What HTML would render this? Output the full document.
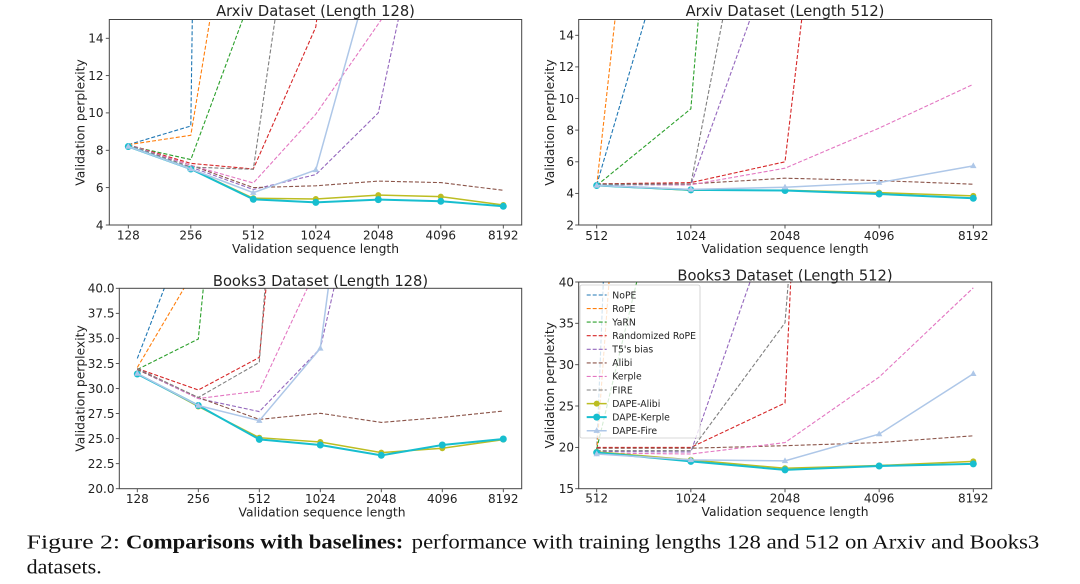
<!DOCTYPE html>
<html><head><meta charset="utf-8"><style>
html,body{margin:0;padding:0;background:#fff;}
svg{display:block;}
.t{font-family:"DejaVu Sans","Liberation Sans",sans-serif;fill:#222;}
.tk{font-size:12px;}
.al{font-size:12.3px;}
.ti{font-size:14.7px;}
.lg{font-size:9.3px;}
.fr{fill:none;stroke:#444;stroke-width:1;}
.tm{stroke:#444;stroke-width:0.9;}
.d{fill:none;stroke-width:1.1;stroke-dasharray:4 2;}
.s{fill:none;}
.cap{font-family:"Liberation Serif","Times New Roman",serif;font-size:20px;fill:#111;}
</style></head><body>
<svg width="1080" height="584" viewBox="0 0 1080 584" xmlns="http://www.w3.org/2000/svg">
<defs>
<clipPath id="cTL"><rect x="109.3" y="19.5" width="412.4" height="205.5"/></clipPath>
<clipPath id="cTR"><rect x="578.7" y="19.5" width="413" height="205.5"/></clipPath>
<clipPath id="cBL"><rect x="119.3" y="288.3" width="402.4" height="200.4"/></clipPath>
<clipPath id="cBR"><rect x="578.7" y="282" width="413" height="206.7"/></clipPath>
</defs>

<!-- ================= TOP LEFT ================= -->
<g clip-path="url(#cTL)">
<polyline class="d" stroke="#1f77b4" points="128.3,144.7 190.8,126.0 193.8,-87"/>
<polyline class="d" stroke="#ff7f0e" points="128.3,144.7 190.8,135.3 229.2,-96.3"/>
<polyline class="d" stroke="#2ca02c" points="128.3,145.6 190.8,159.6 294.6,-120.6"/>
<polyline class="d" stroke="#d62728" points="128.3,144.7 190.8,163.4 253.3,169.0 315.8,27.0 324.8,-48"/>
<polyline class="d" stroke="#9467bd" points="128.3,144.7 190.8,167.1 253.3,189.5 315.8,174.6 378.3,112.9 418.3,-73.9"/>
<polyline class="d" stroke="#8c564b" points="128.3,144.7 190.8,165.2 253.3,187.6 315.8,185.8 378.3,181.1 440.8,182.6 503.3,190.3"/>
<polyline class="d" stroke="#e377c2" points="128.3,144.7 190.8,165.2 253.3,183.0 315.8,114.2 443.3,-69.9"/>
<polyline class="d" stroke="#7f7f7f" points="128.3,144.7 190.8,167.1 253.3,169.3 296.7,-130"/>
<polyline class="s" stroke="#bcbd22" stroke-width="1.5" points="128.3,146.5 190.8,169.0 253.3,198.3 315.8,199.0 378.3,195.1 440.8,196.6 503.3,205.0"/>
<g fill="#bcbd22"><circle cx="128.3" cy="146.5" r="3"/><circle cx="190.8" cy="169.0" r="3"/><circle cx="253.3" cy="198.3" r="3"/><circle cx="315.8" cy="199.0" r="3"/><circle cx="378.3" cy="195.1" r="3"/><circle cx="440.8" cy="196.6" r="3"/><circle cx="503.3" cy="205.0" r="3"/></g>
<polyline class="s" stroke="#17becf" stroke-width="2" points="128.3,146.5 190.8,169.0 253.3,199.3 315.8,202.4 378.3,199.6 440.8,201.3 503.3,206.3"/>
<g fill="#17becf"><circle cx="128.3" cy="146.5" r="3.5"/><circle cx="190.8" cy="169.0" r="3.5"/><circle cx="253.3" cy="199.3" r="3.5"/><circle cx="315.8" cy="202.4" r="3.5"/><circle cx="378.3" cy="199.6" r="3.5"/><circle cx="440.8" cy="201.3" r="3.5"/><circle cx="503.3" cy="206.3" r="3.5"/></g>
<polyline class="s" stroke="#aec7e8" stroke-width="1.5" points="128.3,146.5 190.8,169.0 253.3,192.7 315.8,169.9 399.6,-130.9"/>
<g fill="#aec7e8"><polygon points="128.3,143 125.1,148.7 131.5,148.7"/><polygon points="190.8,165.5 187.6,171.2 194,171.2"/><polygon points="253.3,189.2 250.1,194.9 256.5,194.9"/><polygon points="315.8,166.4 312.6,172.1 319,172.1"/></g>
</g>
<rect class="fr" x="109.3" y="19.5" width="412.4" height="205.5"/>
<g class="tm">
<line x1="105.8" y1="225" x2="109.3" y2="225"/><line x1="105.8" y1="187.6" x2="109.3" y2="187.6"/><line x1="105.8" y1="150.3" x2="109.3" y2="150.3"/><line x1="105.8" y1="112.9" x2="109.3" y2="112.9"/><line x1="105.8" y1="75.6" x2="109.3" y2="75.6"/><line x1="105.8" y1="38.3" x2="109.3" y2="38.3"/>
<line x1="128.3" y1="225" x2="128.3" y2="228.5"/><line x1="190.8" y1="225" x2="190.8" y2="228.5"/><line x1="253.3" y1="225" x2="253.3" y2="228.5"/><line x1="315.8" y1="225" x2="315.8" y2="228.5"/><line x1="378.3" y1="225" x2="378.3" y2="228.5"/><line x1="440.8" y1="225" x2="440.8" y2="228.5"/><line x1="503.3" y1="225" x2="503.3" y2="228.5"/>
</g>
<g class="t tk" text-anchor="end">
<text x="103.5" y="229.3">4</text><text x="103.5" y="191.9">6</text><text x="103.5" y="154.6">8</text><text x="103.5" y="117.2">10</text><text x="103.5" y="79.9">12</text><text x="103.5" y="42.6">14</text>
</g>
<g class="t tk" text-anchor="middle">
<text x="128.3" y="239.5">128</text><text x="190.8" y="239.5">256</text><text x="253.3" y="239.5">512</text><text x="315.8" y="239.5">1024</text><text x="378.3" y="239.5">2048</text><text x="440.8" y="239.5">4096</text><text x="503.3" y="239.5">8192</text>
</g>
<text class="t al" x="315.5" y="253" text-anchor="middle">Validation sequence length</text>
<text class="t al" transform="translate(84.5,122.5) rotate(-90)" text-anchor="middle">Validation perplexity</text>
<text class="t ti" x="315.5" y="16" text-anchor="middle">Arxiv Dataset (Length 128)</text>

<!-- ================= TOP RIGHT ================= -->
<g clip-path="url(#cTR)">
<polyline class="d" stroke="#1f77b4" points="596.7,184.8 693.3,-145.8"/>
<polyline class="d" stroke="#ff7f0e" points="596.7,185.5 633.3,-146.5"/>
<polyline class="d" stroke="#2ca02c" points="596.7,185.5 690.85,108.8 705.8,-69.8"/>
<polyline class="d" stroke="#d62728" points="596.7,183.9 690.85,182.6 785,161.8 818.4,-122.8"/>
<polyline class="d" stroke="#9467bd" points="596.7,184.7 690.85,184.8 809.2,-145.8"/>
<polyline class="d" stroke="#8c564b" points="596.7,183.9 690.85,183.9 785,178.2 879.15,180.6 973.3,184.2"/>
<polyline class="d" stroke="#e377c2" points="596.7,184.7 690.85,184.8 785,168.2 879.15,128.1 973.3,84.3"/>
<polyline class="d" stroke="#7f7f7f" points="596.7,184.7 690.85,184.0 754.5,-145"/>
<polyline class="s" stroke="#bcbd22" stroke-width="1.5" points="596.7,185.5 690.85,190.2 785,190.2 879.15,192.6 973.3,195.9"/>
<g fill="#bcbd22"><circle cx="596.7" cy="185.5" r="3"/><circle cx="690.85" cy="190.2" r="3"/><circle cx="785" cy="190.2" r="3"/><circle cx="879.15" cy="192.6" r="3"/><circle cx="973.3" cy="195.9" r="3"/></g>
<polyline class="s" stroke="#17becf" stroke-width="2" points="596.7,185.5 690.85,189.9 785,190.5 879.15,194.0 973.3,198.3"/>
<g fill="#17becf"><circle cx="596.7" cy="185.5" r="3.5"/><circle cx="690.85" cy="189.9" r="3.5"/><circle cx="785" cy="190.5" r="3.5"/><circle cx="879.15" cy="194.0" r="3.5"/><circle cx="973.3" cy="198.3" r="3.5"/></g>
<polyline class="s" stroke="#aec7e8" stroke-width="1.5" points="596.7,185.5 690.85,189.4 785,187.2 879.15,182.6 973.3,165.9"/>
<g fill="#aec7e8"><polygon points="596.7,182 593.5,187.7 599.9,187.7"/><polygon points="690.85,185.9 687.65,191.6 694.05,191.6"/><polygon points="785,183.7 781.8,189.4 788.2,189.4"/><polygon points="879.15,179.1 875.95,184.8 882.35,184.8"/><polygon points="973.3,162.4 970.1,168.1 976.5,168.1"/></g>
</g>
<rect class="fr" x="578.7" y="19.5" width="413" height="205.5"/>
<g class="tm">
<line x1="575.2" y1="225" x2="578.7" y2="225"/><line x1="575.2" y1="193.4" x2="578.7" y2="193.4"/><line x1="575.2" y1="161.8" x2="578.7" y2="161.8"/><line x1="575.2" y1="130.1" x2="578.7" y2="130.1"/><line x1="575.2" y1="98.5" x2="578.7" y2="98.5"/><line x1="575.2" y1="66.9" x2="578.7" y2="66.9"/><line x1="575.2" y1="35.3" x2="578.7" y2="35.3"/>
<line x1="596.7" y1="225" x2="596.7" y2="228.5"/><line x1="690.85" y1="225" x2="690.85" y2="228.5"/><line x1="785" y1="225" x2="785" y2="228.5"/><line x1="879.15" y1="225" x2="879.15" y2="228.5"/><line x1="973.3" y1="225" x2="973.3" y2="228.5"/>
</g>
<g class="t tk" text-anchor="end">
<text x="574" y="229.3">2</text><text x="574" y="197.7">4</text><text x="574" y="166.1">6</text><text x="574" y="134.4">8</text><text x="574" y="102.8">10</text><text x="574" y="71.2">12</text><text x="574" y="39.6">14</text>
</g>
<g class="t tk" text-anchor="middle">
<text x="596.7" y="240">512</text><text x="690.85" y="240">1024</text><text x="785" y="240">2048</text><text x="879.15" y="240">4096</text><text x="973.3" y="240">8192</text>
</g>
<text class="t al" x="785" y="253" text-anchor="middle">Validation sequence length</text>
<text class="t al" transform="translate(554,122.5) rotate(-90)" text-anchor="middle">Validation perplexity</text>
<text class="t ti" x="785" y="16" text-anchor="middle">Arxiv Dataset (Length 512)</text>

<!-- ================= BOTTOM LEFT ================= -->
<g clip-path="url(#cBL)">
<polyline class="d" stroke="#1f77b4" points="137.3,358.4 218.3,148.1"/>
<polyline class="d" stroke="#ff7f0e" points="137.3,367.5 277.4,129.9"/>
<polyline class="d" stroke="#2ca02c" points="137.3,369.5 198.3,339.0 213.3,186.9"/>
<polyline class="d" stroke="#d62728" points="137.3,368.5 198.3,390.0 259.3,357.4 279.4,150.1"/>
<polyline class="d" stroke="#9467bd" points="137.3,369.5 198.3,398.5 259.3,411.6 320.3,348.4 361.4,168.1"/>
<polyline class="d" stroke="#8c564b" points="137.3,369.5 198.3,397.5 259.3,419.4 320.3,413.3 381.3,422.4 442.3,417.4 503.3,411.0"/>
<polyline class="d" stroke="#e377c2" points="137.3,368.5 198.3,398.5 259.3,391.0 403.3,82.9"/>
<polyline class="d" stroke="#7f7f7f" points="137.3,368.5 198.3,397.5 259.3,362.4 276.4,140.1"/>
<polyline class="s" stroke="#bcbd22" stroke-width="1.5" points="137.3,373.5 198.3,406.5 259.3,437.7 320.3,442.0 381.3,452.6 442.3,448.3 503.3,439.6"/>
<g fill="#bcbd22"><circle cx="137.3" cy="373.5" r="3"/><circle cx="198.3" cy="406.5" r="3"/><circle cx="259.3" cy="437.7" r="3"/><circle cx="320.3" cy="442.0" r="3"/><circle cx="381.3" cy="452.6" r="3"/><circle cx="442.3" cy="448.3" r="3"/><circle cx="503.3" cy="439.6" r="3"/></g>
<polyline class="s" stroke="#17becf" stroke-width="2" points="137.3,374.0 198.3,405.5 259.3,439.4 320.3,445.0 381.3,455.3 442.3,445.0 503.3,439.0"/>
<g fill="#17becf"><circle cx="137.3" cy="374.0" r="3.5"/><circle cx="198.3" cy="405.5" r="3.5"/><circle cx="259.3" cy="439.4" r="3.5"/><circle cx="320.3" cy="445.0" r="3.5"/><circle cx="381.3" cy="455.3" r="3.5"/><circle cx="442.3" cy="445.0" r="3.5"/><circle cx="503.3" cy="439.0" r="3.5"/></g>
<polyline class="s" stroke="#aec7e8" stroke-width="1.5" points="137.3,373.5 198.3,405.5 259.3,420.7 320.3,348.4 344.3,168.1"/>
<g fill="#aec7e8"><polygon points="137.3,370 134.1,375.7 140.5,375.7"/><polygon points="198.3,402 195.1,407.7 201.5,407.7"/><polygon points="259.3,417.2 256.1,422.9 262.5,422.9"/><polygon points="320.3,344.9 317.1,350.6 323.5,350.6"/></g>
</g>
<rect class="fr" x="119.3" y="288.3" width="402.4" height="200.4"/>
<g class="tm">
<line x1="115.8" y1="488.7" x2="119.3" y2="488.7"/><line x1="115.8" y1="463.65" x2="119.3" y2="463.65"/><line x1="115.8" y1="438.6" x2="119.3" y2="438.6"/><line x1="115.8" y1="413.55" x2="119.3" y2="413.55"/><line x1="115.8" y1="388.5" x2="119.3" y2="388.5"/><line x1="115.8" y1="363.45" x2="119.3" y2="363.45"/><line x1="115.8" y1="338.4" x2="119.3" y2="338.4"/><line x1="115.8" y1="313.35" x2="119.3" y2="313.35"/><line x1="115.8" y1="288.3" x2="119.3" y2="288.3"/>
<line x1="137.3" y1="488.7" x2="137.3" y2="492.2"/><line x1="198.3" y1="488.7" x2="198.3" y2="492.2"/><line x1="259.3" y1="488.7" x2="259.3" y2="492.2"/><line x1="320.3" y1="488.7" x2="320.3" y2="492.2"/><line x1="381.3" y1="488.7" x2="381.3" y2="492.2"/><line x1="442.3" y1="488.7" x2="442.3" y2="492.2"/><line x1="503.3" y1="488.7" x2="503.3" y2="492.2"/>
</g>
<g class="t tk" text-anchor="end">
<text x="114.5" y="493">20.0</text><text x="114.5" y="467.95">22.5</text><text x="114.5" y="442.9">25.0</text><text x="114.5" y="417.85">27.5</text><text x="114.5" y="392.8">30.0</text><text x="114.5" y="367.75">32.5</text><text x="114.5" y="342.7">35.0</text><text x="114.5" y="317.65">37.5</text><text x="114.5" y="292.6">40.0</text>
</g>
<g class="t tk" text-anchor="middle">
<text x="137.3" y="503">128</text><text x="198.3" y="503">256</text><text x="259.3" y="503">512</text><text x="320.3" y="503">1024</text><text x="381.3" y="503">2048</text><text x="442.3" y="503">4096</text><text x="503.3" y="503">8192</text>
</g>
<text class="t al" x="322" y="516.5" text-anchor="middle">Validation sequence length</text>
<text class="t al" transform="translate(84.5,388.5) rotate(-90)" text-anchor="middle">Validation perplexity</text>
<text class="t ti" x="320.5" y="286" text-anchor="middle">Books3 Dataset (Length 128)</text>

<!-- ================= BOTTOM RIGHT ================= -->
<g clip-path="url(#cBR)">
<polyline class="d" stroke="#1f77b4" points="596.7,451.5 609.9,112.5"/>
<polyline class="d" stroke="#ff7f0e" points="596.7,451.5 621.3,112.5"/>
<polyline class="d" stroke="#2ca02c" points="596.7,449 676.7,115"/>
<polyline class="d" stroke="#d62728" points="596.7,447.4 690.85,447.4 785,403.0 796.4,161"/>
<polyline class="d" stroke="#9467bd" points="596.7,451.5 690.85,452.0 809.2,112"/>
<polyline class="d" stroke="#8c564b" points="596.7,448.2 690.85,448.2 785,445.7 879.15,442.6 973.3,435.8"/>
<polyline class="d" stroke="#e377c2" points="596.7,453.1 690.85,454.0 785,442.6 879.15,377.1 973.3,287.8"/>
<polyline class="d" stroke="#7f7f7f" points="596.7,450.7 690.85,450.7 785,322.8 798.2,159.6"/>
<polyline class="s" stroke="#bcbd22" stroke-width="1.5" points="596.7,451.9 690.85,459.9 785,468.3 879.15,465.5 973.3,461.4"/>
<g fill="#bcbd22"><circle cx="596.7" cy="451.9" r="3"/><circle cx="690.85" cy="459.9" r="3"/><circle cx="785" cy="468.3" r="3"/><circle cx="879.15" cy="465.5" r="3"/><circle cx="973.3" cy="461.4" r="3"/></g>
<polyline class="s" stroke="#17becf" stroke-width="2" points="596.7,452.6 690.85,461.4 785,469.9 879.15,466.0 973.3,463.9"/>
<g fill="#17becf"><circle cx="596.7" cy="452.6" r="3.5"/><circle cx="690.85" cy="461.4" r="3.5"/><circle cx="785" cy="469.9" r="3.5"/><circle cx="879.15" cy="466.0" r="3.5"/><circle cx="973.3" cy="463.9" r="3.5"/></g>
<polyline class="s" stroke="#aec7e8" stroke-width="1.5" points="596.7,454.0 690.85,459.9 785,460.9 879.15,434.1 973.3,373.8"/>
<g fill="#aec7e8"><polygon points="596.7,450.5 593.5,456.2 599.9,456.2"/><polygon points="690.85,456.4 687.65,462.1 694.05,462.1"/><polygon points="785,457.4 781.8,463.1 788.2,463.1"/><polygon points="879.15,430.6 875.95,436.3 882.35,436.3"/><polygon points="973.3,370.3 970.1,376 976.5,376"/></g>
</g>
<rect class="fr" x="578.7" y="282" width="413" height="206.7"/>
<g class="tm">
<line x1="575.2" y1="488.7" x2="578.7" y2="488.7"/><line x1="575.2" y1="447.4" x2="578.7" y2="447.4"/><line x1="575.2" y1="406.0" x2="578.7" y2="406.0"/><line x1="575.2" y1="364.7" x2="578.7" y2="364.7"/><line x1="575.2" y1="323.3" x2="578.7" y2="323.3"/><line x1="575.2" y1="282" x2="578.7" y2="282"/>
<line x1="596.7" y1="488.7" x2="596.7" y2="492.2"/><line x1="690.85" y1="488.7" x2="690.85" y2="492.2"/><line x1="785" y1="488.7" x2="785" y2="492.2"/><line x1="879.15" y1="488.7" x2="879.15" y2="492.2"/><line x1="973.3" y1="488.7" x2="973.3" y2="492.2"/>
</g>
<g class="t tk" text-anchor="end">
<text x="574" y="493">15</text><text x="574" y="451.7">20</text><text x="574" y="410.3">25</text><text x="574" y="369">30</text><text x="574" y="327.6">35</text><text x="574" y="286.3">40</text>
</g>
<g class="t tk" text-anchor="middle">
<text x="596.7" y="502.5">512</text><text x="690.85" y="502.5">1024</text><text x="785" y="502.5">2048</text><text x="879.15" y="502.5">4096</text><text x="973.3" y="502.5">8192</text>
</g>
<text class="t al" x="785" y="516" text-anchor="middle">Validation sequence length</text>
<text class="t al" transform="translate(554,385.3) rotate(-90)" text-anchor="middle">Validation perplexity</text>
<text class="t ti" x="785" y="280.5" text-anchor="middle">Books3 Dataset (Length 512)</text>

<!-- Legend -->
<rect x="580" y="285" width="120" height="153" rx="2" ry="2" fill="#fff" fill-opacity="0.8" stroke="#ccc" stroke-width="0.8"/>
<g>
<line class="d" stroke="#1f77b4" x1="586.7" y1="295" x2="606.7" y2="295"/>
<line class="d" stroke="#ff7f0e" x1="586.7" y1="308.6" x2="606.7" y2="308.6"/>
<line class="d" stroke="#2ca02c" x1="586.7" y1="322.1" x2="606.7" y2="322.1"/>
<line class="d" stroke="#d62728" x1="586.7" y1="335.7" x2="606.7" y2="335.7"/>
<line class="d" stroke="#9467bd" x1="586.7" y1="349.3" x2="606.7" y2="349.3"/>
<line class="d" stroke="#8c564b" x1="586.7" y1="362.9" x2="606.7" y2="362.9"/>
<line class="d" stroke="#e377c2" x1="586.7" y1="376.4" x2="606.7" y2="376.4"/>
<line class="d" stroke="#7f7f7f" x1="586.7" y1="390" x2="606.7" y2="390"/>
<line stroke="#bcbd22" stroke-width="1.5" x1="586.7" y1="403.6" x2="606.7" y2="403.6"/><circle cx="596.7" cy="403.6" r="3" fill="#bcbd22"/>
<line stroke="#17becf" stroke-width="2" x1="586.7" y1="417.1" x2="606.7" y2="417.1"/><circle cx="596.7" cy="417.1" r="3.5" fill="#17becf"/>
<line stroke="#aec7e8" stroke-width="1.5" x1="586.7" y1="430.7" x2="606.7" y2="430.7"/><polygon points="596.7,427.2 593.5,432.9 599.9,432.9" fill="#aec7e8"/>
</g>
<g class="t lg">
<text x="612.3" y="298.3">NoPE</text>
<text x="612.3" y="311.9">RoPE</text>
<text x="612.3" y="325.4">YaRN</text>
<text x="612.3" y="339">Randomized RoPE</text>
<text x="612.3" y="352.6">T5's bias</text>
<text x="612.3" y="366.2">Alibi</text>
<text x="612.3" y="379.7">Kerple</text>
<text x="612.3" y="393.3">FIRE</text>
<text x="612.3" y="406.9">DAPE-Alibi</text>
<text x="612.3" y="420.4">DAPE-Kerple</text>
<text x="612.3" y="434">DAPE-Fire</text>
</g>

<!-- Caption -->
<text class="cap" x="26.7" y="548.3" textLength="93.3" lengthAdjust="spacingAndGlyphs">Figure 2:</text>
<text class="cap" x="126" y="548.3" font-weight="bold" textLength="277.3" lengthAdjust="spacingAndGlyphs">Comparisons with baselines:</text>
<text class="cap" x="411.7" y="548.3" textLength="627.6" lengthAdjust="spacingAndGlyphs">performance with training lengths 128 and 512 on Arxiv and Books3</text>
<text class="cap" x="26.7" y="573.3" textLength="75" lengthAdjust="spacingAndGlyphs">datasets.</text>
</svg>
</body></html>
